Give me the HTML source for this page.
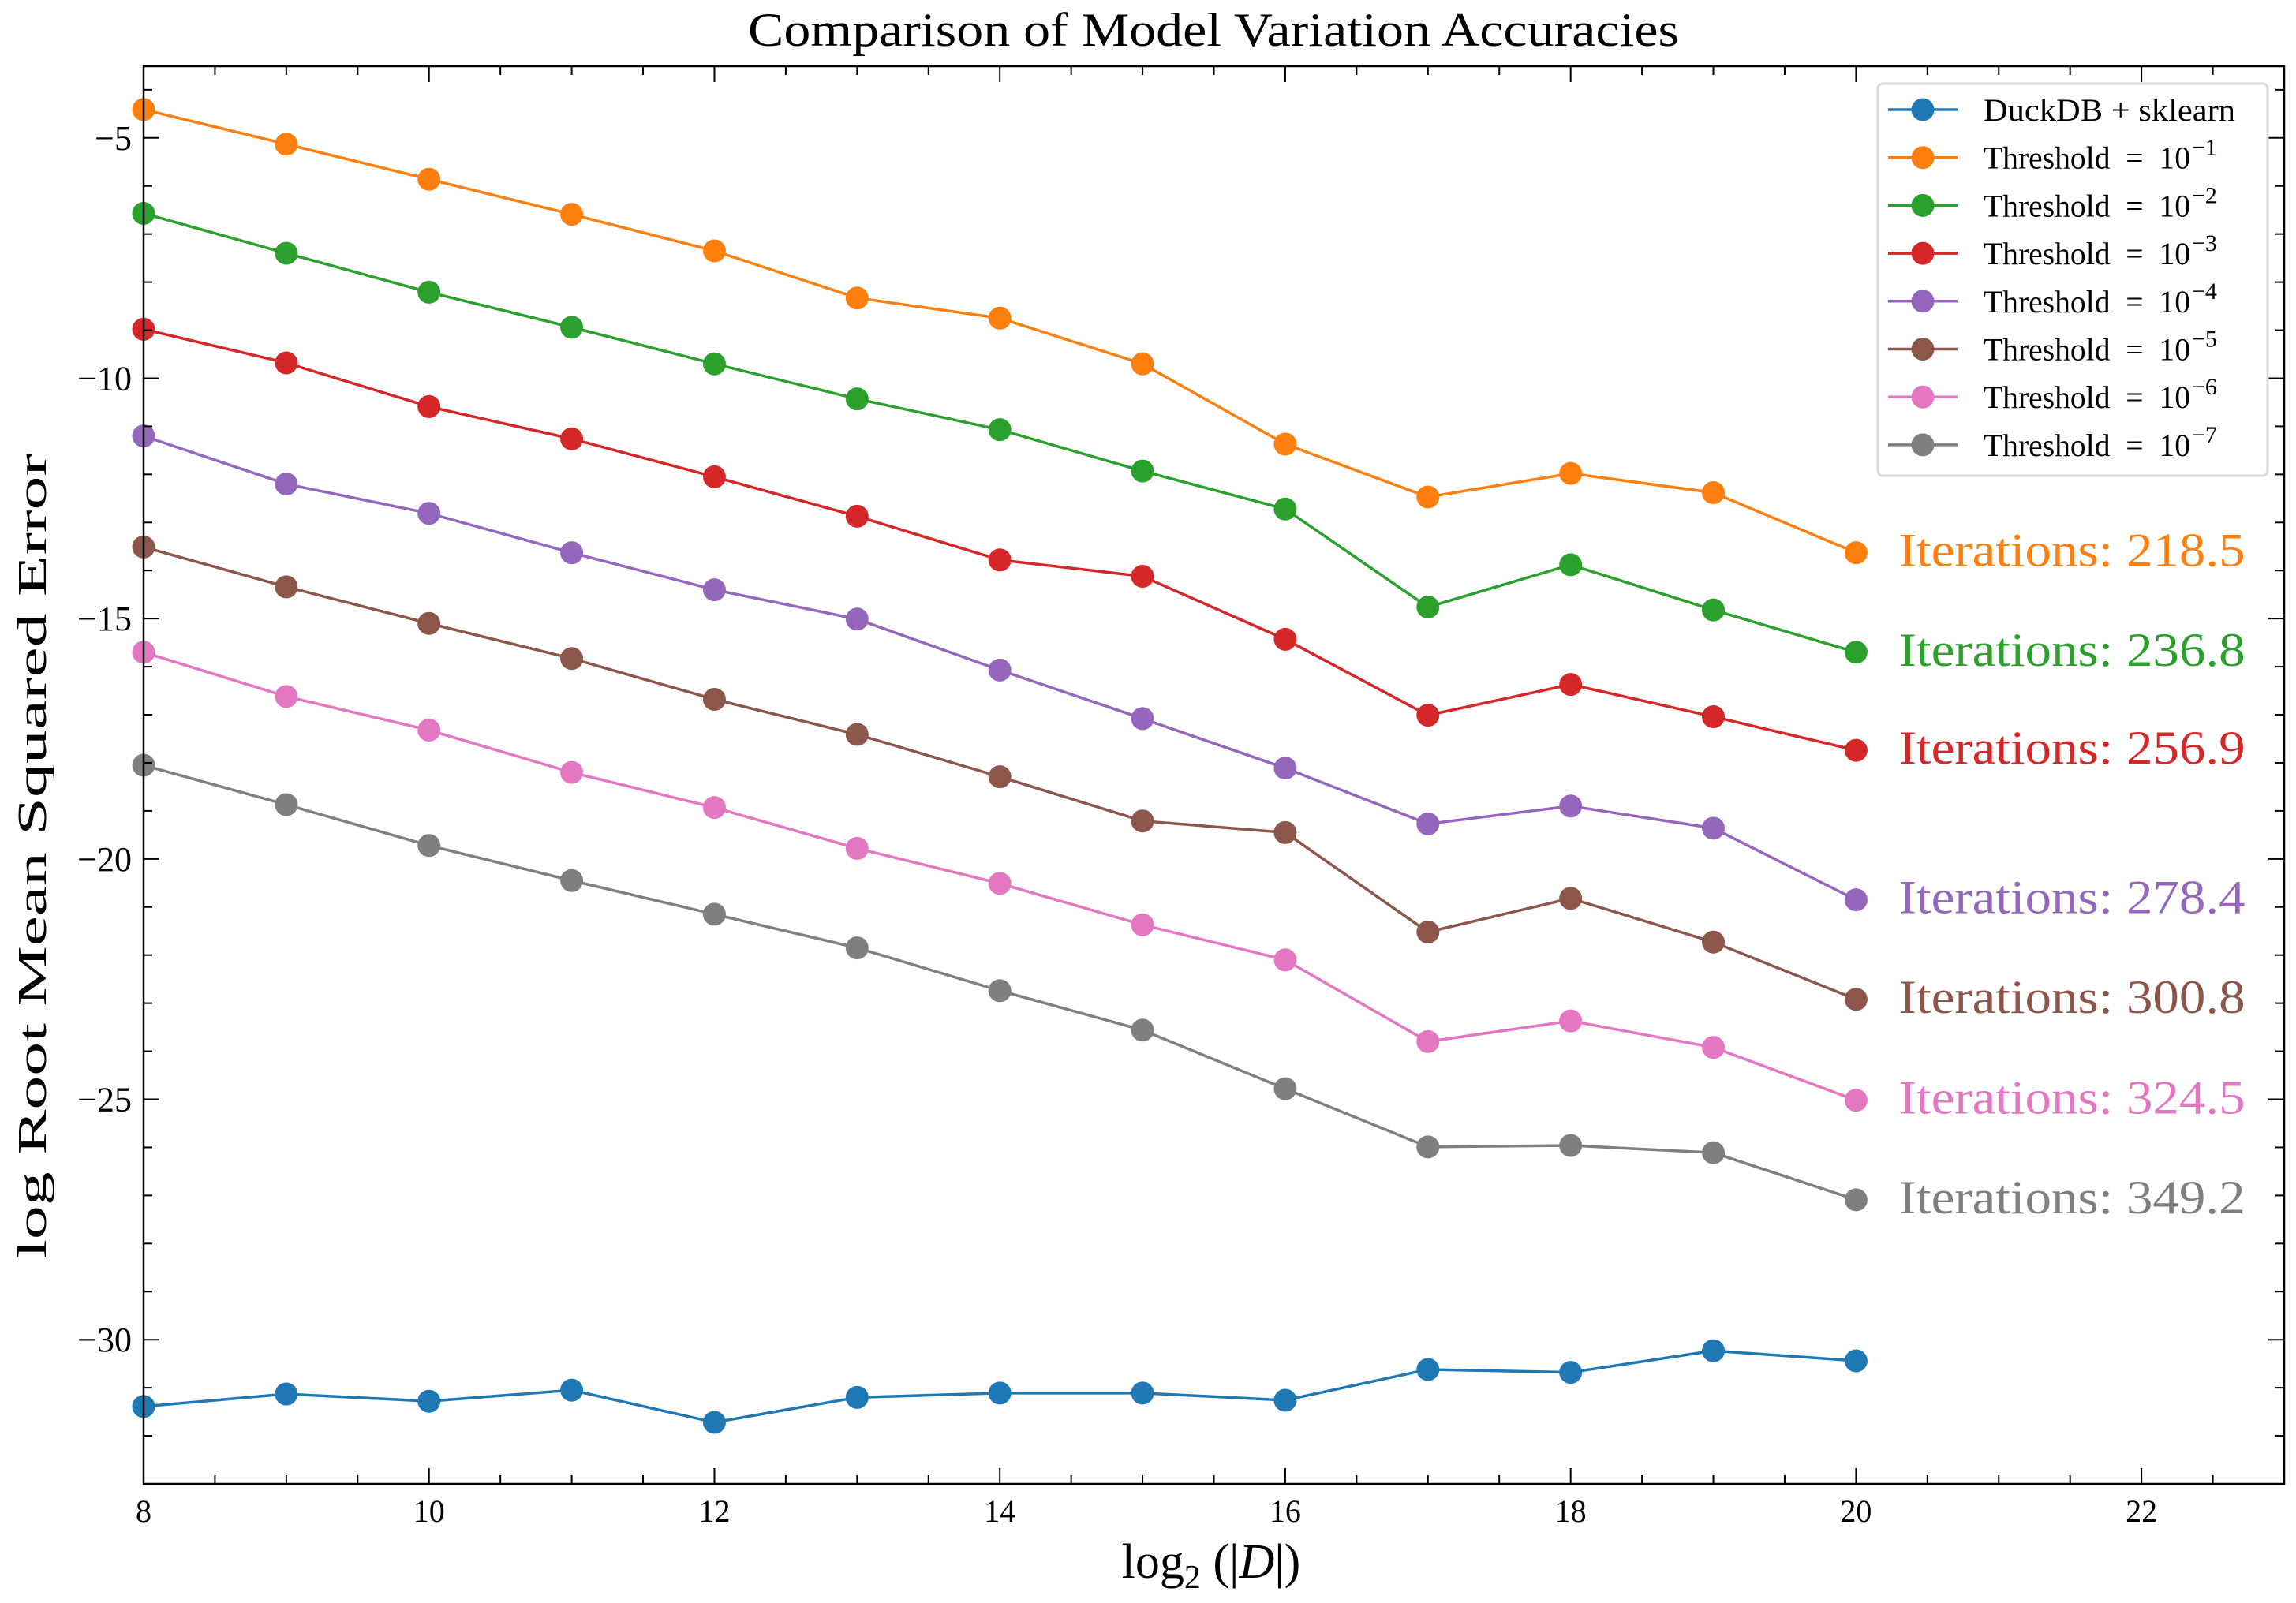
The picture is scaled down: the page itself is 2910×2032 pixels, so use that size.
<!DOCTYPE html>
<html><head><meta charset="utf-8"><style>
html,body{margin:0;padding:0;background:#fff;}
svg{display:block;font-family:"Liberation Serif",serif;}
</style></head>
<body>
<svg id="chart" width="2910" height="2032" viewBox="0 0 2910 2032" xmlns="http://www.w3.org/2000/svg">
<rect width="2910" height="2032" fill="#fff"/>
<text x="1538" y="58" font-size="60" text-anchor="middle" textLength="1180" lengthAdjust="spacingAndGlyphs">Comparison of Model Variation Accuracies</text>
<text x="1535" y="2000" font-size="62" text-anchor="middle">log<tspan font-size="42" dy="13">2</tspan><tspan dy="-13"> (|</tspan><tspan font-style="italic">D</tspan>|)</text>
<text transform="translate(58,1085) rotate(-90)" font-size="52" text-anchor="middle" textLength="1020" lengthAdjust="spacingAndGlyphs">log Root Mean Squared Error</text>
<g id="grid"></g>
<g id="series"></g>
<g id="annots"></g>
<g id="axes"></g>
<g id="legend"></g>
</svg>
<script>
const xCategories = [8,9,10,11,12,13,14,15,16,17,18,19,20];
const seriesNames = ["DuckDB + sklearn","Threshold  =  10","Threshold  =  10","Threshold  =  10","Threshold  =  10","Threshold  =  10","Threshold  =  10","Threshold  =  10"];
const seriesExp = ["","−1","−2","−3","−4","−5","−6","−7"];
const seriesColors = ["#1f77b4","#ff7f0e","#2ca02c","#d62728","#9467bd","#8c564b","#e377c2","#7f7f7f"];
const duckdbValues = [-31.39,-31.13,-31.28,-31.05,-31.72,-31.20,-31.11,-31.11,-31.26,-30.62,-30.68,-30.23,-30.44];
const t1Values = [-4.41,-5.13,-5.86,-6.59,-7.35,-8.33,-8.75,-9.70,-11.37,-12.47,-11.98,-12.38,-13.63];
const t2Values = [-6.57,-7.40,-8.21,-8.94,-9.70,-10.43,-11.07,-11.93,-12.72,-14.76,-13.88,-14.82,-15.70];
const t3Values = [-8.98,-9.68,-10.59,-11.26,-12.05,-12.87,-13.78,-14.12,-15.43,-17.01,-16.37,-17.04,-17.74];
const t4Values = [-11.20,-12.20,-12.81,-13.63,-14.40,-15.01,-16.07,-17.08,-18.11,-19.27,-18.90,-19.36,-20.85];
const t5Values = [-13.51,-14.34,-15.10,-15.83,-16.68,-17.41,-18.29,-19.21,-19.45,-21.52,-20.82,-21.73,-22.92];
const t6Values = [-15.70,-16.62,-17.32,-18.20,-18.93,-19.78,-20.51,-21.37,-22.10,-23.80,-23.37,-23.92,-25.02];
const t7Values = [-18.05,-18.87,-19.72,-20.45,-21.15,-21.85,-22.74,-23.56,-24.78,-25.99,-25.96,-26.11,-27.09];
const iterationLabels = ["Iterations: 218.5","Iterations: 236.8","Iterations: 256.9","Iterations: 278.4","Iterations: 300.8","Iterations: 324.5","Iterations: 349.2"];
const xTickLabels = [8,10,12,14,16,18,20,22];
const yTickLabels = [-5,-10,-15,-20,-25,-30];

const NS="http://www.w3.org/2000/svg";
const L=182,R=2895,T=84,B=1881;
const xMin=8,xMax=23,yMin=-33,yMax=-3.51;
function xs(v){return L+(v-xMin)/(xMax-xMin)*(R-L);}
function ys(v){return B-(v-yMin)/(yMax-yMin)*(B-T);}
function mk(tag,attrs,parent){const e=document.createElementNS(NS,tag);for(const k in attrs)e.setAttribute(k,attrs[k]);parent.appendChild(e);return e;}
const allSeries=[duckdbValues,t1Values,t2Values,t3Values,t4Values,t5Values,t6Values,t7Values];

const gS=document.getElementById('series');
allSeries.forEach((vals,si)=>{
  const pts=vals.map((v,i)=>xs(xCategories[i])+','+ys(v)).join(' ');
  const pl=mk('polyline',{points:pts,fill:'none',stroke:seriesColors[si],'stroke-width':3.5},gS);
  
  
  vals.forEach((v,i)=>{
    const c=mk('circle',{cx:xs(xCategories[i]),cy:ys(v),r:14.5,fill:seriesColors[si]},gS);
    
    
  });
});

const gA=document.getElementById('annots');
iterationLabels.forEach((lab,k)=>{
  const vals=allSeries[k+1];
  const t=mk('text',{x:xs(20.3),y:ys(vals[vals.length-1])+17,'font-size':60,fill:seriesColors[k+1],textLength:439,lengthAdjust:'spacingAndGlyphs'},gA);
  t.textContent=lab;
  
  
});

const gX=document.getElementById('axes');
const frame=mk('rect',{x:L,y:T,width:R-L,height:B-T,fill:'none',stroke:'#000','stroke-width':2.5},gX);


for(let v=8;v<=23.001;v+=0.5){
  const major=Math.abs(v%2)<1e-6;const len=major?20:11;const x=xs(v);
  mk('line',{x1:x,y1:B,x2:x,y2:B-len,stroke:'#000','stroke-width':2},gX);
  mk('line',{x1:x,y1:T,x2:x,y2:T+len,stroke:'#000','stroke-width':2},gX);
}
for(let v=-33;v<=-4;v+=1){
  const major=v%5===0;const len=major?20:11;const y=ys(v);
  mk('line',{x1:L,y1:y,x2:L+len,y2:y,stroke:'#000','stroke-width':2},gX);
  mk('line',{x1:R,y1:y,x2:R-len,y2:y,stroke:'#000','stroke-width':2},gX);
}
xTickLabels.forEach(v=>{
  const t=mk('text',{x:xs(v),y:1929,'font-size':40,'text-anchor':'middle'},gX);
  t.textContent=v;
  
  
});
yTickLabels.forEach(v=>{
  const t=mk('text',{x:167,y:ys(v)+15,'font-size':44,'text-anchor':'end'},gX);
  t.textContent='−'+Math.abs(v);
  
  
});

const gL=document.getElementById('legend');
const box=mk('rect',{x:2380,y:106,width:494,height:497,rx:6,fill:'#fff',stroke:'#d9d9d9','stroke-width':3},gL);


seriesNames.forEach((n,i)=>{
  const y=139+i*60.7;
  const g=mk('g',{},gL);
  
  
  mk('line',{x1:2393,y1:y,x2:2481,y2:y,stroke:seriesColors[i],'stroke-width':3.5},g);
  mk('circle',{cx:2437,cy:y,r:14.5,fill:seriesColors[i]},g);
  const t=mk('text',{x:2514,y:y+14,'font-size':40},g);
  t.setAttribute('style','white-space:pre');
  const m=mk('tspan',{textLength:(i===0?319:262),lengthAdjust:'spacingAndGlyphs'},t);
  m.textContent=n;
  if(seriesExp[i]){const s=mk('tspan',{'font-size':30,dy:-17,dx:2},t);s.textContent=seriesExp[i];}
});
</script>
</body></html>
